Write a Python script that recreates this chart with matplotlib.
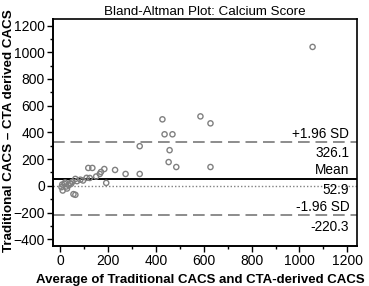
import matplotlib
matplotlib.use("Agg")
import matplotlib.pyplot as plt
import matplotlib.transforms as mtransforms
from matplotlib.ticker import MultipleLocator

plt.rcParams['font.family'] = ['Liberation Sans', 'DejaVu Sans']

# average of the two methods vs difference
avg_vals = [1055, 586, 628, 628, 427, 436, 469, 457, 453, 485, 332, 332,
            273, 229, 192, 184, 170, 165, 134, 117, 123, 63, 84, 63, 55,
            45, 17, 5, 10, 20, 28, 35, 8, 40, 70, 95, 110, 150, 25, 50]
diff_vals = [1040, 520, 468, 141, 498, 386, 386, 267, 178, 141, 297, 89,
             89, 119, 22, 126, 104, 89, 134, 134, 59, 52, 46, -67, -62,
             15, 15, -10, -35, 25, -20, 5, 10, 20, 35, 40, 60, 70, -5, 30]

mean_diff = 52.9
upper_loa = 326.1
lower_loa = -220.3

fig = plt.figure(figsize=(3.69, 2.86), dpi=100)
ax = fig.add_axes([0.144, 0.14, 0.823, 0.794])

ax.scatter(avg_vals, diff_vals, s=14, facecolors='none', edgecolors='#808080',
           linewidths=1.0, zorder=3)

ax.axhline(mean_diff, color='black', lw=1.4)
ax.axhline(0, color='#808080', lw=1.0, ls=(0, (1, 1.5)))
ax.axhline(upper_loa, color='#8c8c8c', lw=1.4, ls=(0, (6, 3)))
ax.axhline(lower_loa, color='#8c8c8c', lw=1.4, ls=(0, (6, 3)))

trans = mtransforms.blended_transform_factory(ax.transAxes, ax.transData)
lbl = dict(transform=trans, ha='right', va='center', fontsize=9.8)
ax.text(0.975, upper_loa + 62, '+1.96 SD', **lbl)
ax.text(0.975, upper_loa - 80, '%.1f' % upper_loa, **lbl)
ax.text(0.975, mean_diff + 66, 'Mean', **lbl)
ax.text(0.975, mean_diff - 82, '%.1f' % mean_diff, **lbl)
ax.text(0.975, lower_loa + 64, '-1.96 SD', **lbl)
ax.text(0.975, lower_loa - 85, '%.1f' % lower_loa, **lbl)

ax.set_xlim(-30, 1240)
ax.set_ylim(-450, 1250)
ax.xaxis.set_major_locator(MultipleLocator(200))
ax.xaxis.set_minor_locator(MultipleLocator(100))
ax.yaxis.set_major_locator(MultipleLocator(200))
ax.yaxis.set_minor_locator(MultipleLocator(100))
ax.tick_params(which='major', direction='out', length=4, width=1, labelsize=10, pad=2)
ax.tick_params(which='minor', direction='out', length=2, width=1)

for side in ['left', 'bottom']:
    ax.spines[side].set_linewidth(1.4)
for side in ['top', 'right']:
    ax.spines[side].set_linewidth(1.2)

ax.set_title('Bland-Altman Plot: Calcium Score', fontsize=9.6, pad=3)
ax.set_xlabel('Average of Traditional CACS and CTA-derived CACS',
              fontsize=9.5, fontweight='bold')
ax.set_ylabel('Traditional CACS \u2013 CTA derived CACS',
              fontsize=9.6, fontweight='bold')
ax.xaxis.set_label_coords(0.485, -0.125)
ax.yaxis.set_label_coords(-0.125, 0.51)

fig.savefig('out.png', dpi=100)
